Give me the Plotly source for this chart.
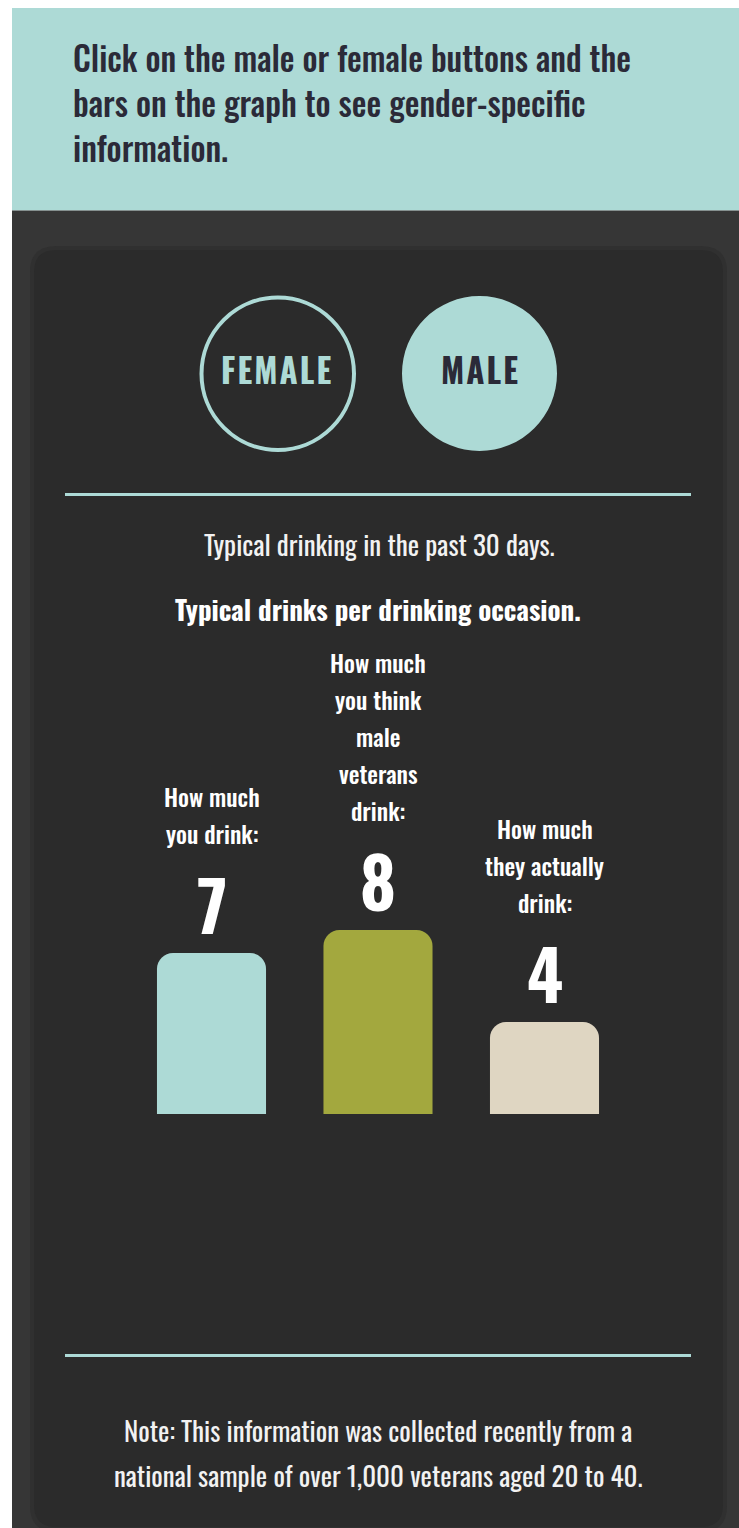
import plotly.graph_objects as go

# ---------------- data ----------------
LABELS = ["How much<br>you drink:",
          "How much<br>you think<br>male<br>veterans<br>drink:",
          "How much<br>they actually<br>drink:"]
VALUES = [7, 8, 4]
BAR_COLORS = ["#addad6", "#a3a83e", "#dfd6c2"]
BANNER_LINES = ["Click on the male or female buttons and the",
                "bars on the graph to see gender-specific",
                "information."]
SUBTITLE = "Typical drinking in the past 30 days."
TITLE = "Typical drinks per drinking occasion."
NOTE_LINES = ["Note: This information was collected recently from a",
              "national sample of over 1,000 veterans aged 20 to 40."]
BUTTONS = ["FEMALE", "MALE"]

# ---------------- layout helpers ----------------
W, H = 739, 1528
FONT = "Oswald, Liberation Sans Narrow, DejaVu Sans Condensed, sans-serif"
TEAL = "#addad6"
CARD = "#2b2b2b"
OUTER = "#363636"
INK = "#2b2a38"


def px(x):
    return x / W


def py(y):
    return 1 - y / H


def rounded_rect(x0, y0, x1, y1, r):
    X0, X1 = px(x0), px(x1)
    Y0, Y1 = py(y0), py(y1)
    rx, ry = r / W, r / H
    return (f"M {X0 + rx} {Y0} L {X1 - rx} {Y0} Q {X1} {Y0} {X1} {Y0 - ry} "
            f"L {X1} {Y1 + ry} Q {X1} {Y1} {X1 - rx} {Y1} "
            f"L {X0 + rx} {Y1} Q {X0} {Y1} {X0} {Y1 + ry} "
            f"L {X0} {Y0 - ry} Q {X0} {Y0} {X0 + rx} {Y0} Z")


fig = go.Figure()
fig.add_trace(go.Bar(
    x=LABELS, y=VALUES, width=0.655,
    marker=dict(color=BAR_COLORS, cornerradius=16, line=dict(width=0)),
    hoverinfo="skip",
))

shapes = [
    dict(type="rect", xref="paper", yref="paper", x0=px(12), x1=px(745),
         y0=py(8), y1=py(210.5), fillcolor=TEAL, line=dict(width=0), layer="below"),
    dict(type="rect", xref="paper", yref="paper", x0=px(12), x1=px(745),
         y0=py(210.5), y1=py(1540), fillcolor=OUTER, line=dict(width=0), layer="below"),
    dict(type="path", xref="paper", yref="paper", path=rounded_rect(30, 246, 727, 1532, 26),
         fillcolor="#303030", line=dict(width=0), layer="below"),
    dict(type="path", xref="paper", yref="paper", path=rounded_rect(34, 250, 723, 1527, 22),
         fillcolor=CARD, line=dict(width=0), layer="below"),
    # buttons
    dict(type="circle", xref="paper", yref="paper", x0=px(201.5), x1=px(354),
         y0=py(297.5), y1=py(450), fillcolor="rgba(0,0,0,0)", line=dict(color=TEAL, width=4)),
    dict(type="circle", xref="paper", yref="paper", x0=px(402), x1=px(557),
         y0=py(296), y1=py(451), fillcolor=TEAL, line=dict(width=0)),
    # dividers
    dict(type="line", xref="paper", yref="paper", x0=px(65), x1=px(691),
         y0=py(494.5), y1=py(494.5), line=dict(color=TEAL, width=3)),
    dict(type="line", xref="paper", yref="paper", x0=px(65), x1=px(691),
         y0=py(1355.5), y1=py(1355.5), line=dict(color=TEAL, width=3)),
]

ann = []
for i, line in enumerate(BANNER_LINES):
    ann.append(dict(xref="paper", yref="paper", x=px(71), y=py(57 + i * 45.5),
                    xanchor="left", yanchor="middle", showarrow=False, text=line,
                    font=dict(family=FONT, size=33, color=INK, weight=500)))

ann.append(dict(xref="paper", yref="paper", x=px(276), y=py(370), showarrow=False,
                text="\u200a".join(BUTTONS[0]), xanchor="center", yanchor="middle",
                font=dict(family=FONT, size=33, color=TEAL, weight=700)))
ann.append(dict(xref="paper", yref="paper", x=px(479), y=py(370), showarrow=False,
                text="\u200a".join(BUTTONS[1]), xanchor="center", yanchor="middle",
                font=dict(family=FONT, size=33, color=INK, weight=700)))

ann.append(dict(xref="paper", yref="paper", x=px(379), y=py(544), showarrow=False,
                text=SUBTITLE, xanchor="center", yanchor="middle",
                font=dict(family=FONT, size=27, color="#f2f2f2", weight=400)))
ann.append(dict(xref="paper", yref="paper", x=px(378), y=py(609), showarrow=False,
                text=TITLE, xanchor="center", yanchor="middle",
                font=dict(family=FONT, size=27, color="#ffffff", weight=700)))

for i, line in enumerate(NOTE_LINES):
    ann.append(dict(xref="paper", yref="paper", x=px(378), y=py(1430 + i * 45), showarrow=False,
                    text=line, xanchor="center", yanchor="middle",
                    font=dict(family=FONT, size=27, color="#f2f2f2")))

# bar annotations (anchored on the data)
for lab, val in zip(LABELS, VALUES):
    ann.append(dict(xref="x", yref="y", x=lab, y=val, yshift=50, showarrow=False,
                    text=str(val), xanchor="center", yanchor="middle",
                    font=dict(family=FONT, size=69, color="#ffffff", weight=700)))
    lines = lab.split("<br>")
    n = len(lines)
    for j, ln in enumerate(lines):
        ann.append(dict(xref="x", yref="y", x=lab, y=val, yshift=120 + (n - 1 - j) * 37,
                        showarrow=False, text=ln, xanchor="center", yanchor="middle",
                        font=dict(family=FONT, size=24, color="#ffffff", weight=500)))

fig.update_layout(
    width=W, height=H, margin=dict(l=0, r=0, t=0, b=0),
    paper_bgcolor="#ffffff", plot_bgcolor="rgba(0,0,0,0)",
    shapes=shapes, annotations=ann, showlegend=False,
    xaxis=dict(domain=[px(128.25), px(627.75)], range=[-0.5, 2.5], visible=False,
               fixedrange=True),
    yaxis=dict(domain=[py(1114), py(884)], range=[0, 10], visible=False, fixedrange=True),
)

PAGE_JS = ("document.documentElement.style.margin='0';document.body.style.margin='0';"
           "document.documentElement.style.overflow='hidden';document.body.style.overflow='hidden';")

fig.write_html("out.html", config={"displayModeBar": False}, post_script=PAGE_JS)
